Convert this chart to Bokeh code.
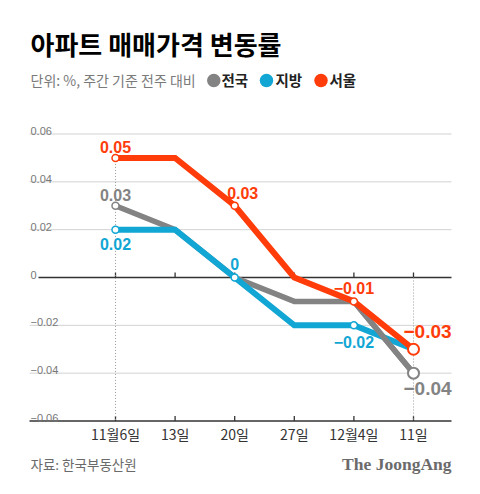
from bokeh.plotting import figure
from bokeh.models import Range1d
from bokeh.embed import file_html
from bokeh.resources import INLINE
from bokeh.core.properties import value

# ---------------- data ----------------
dates = ["11월6일", "13일", "20일", "27일", "12월4일", "11일"]
national = [0.03, 0.02, 0.0, -0.01, -0.01, -0.04]   # 전국
regional = [0.02, 0.02, 0.0, -0.02, -0.02, -0.03]   # 지방
seoul = [0.05, 0.05, 0.03, 0.0, -0.01, -0.03]       # 서울
y_ticks = [0.06, 0.04, 0.02, 0.0, -0.02, -0.04, -0.06]
y_tick_labels = ["0.06", "0.04", "0.02", "0", "−0.02", "−0.04", "−0.06"]
series_names = ["전국", "지방", "서울"]

title_text = "아파트 매매가격 변동률"
subtitle_text = "단위: %, 주간 기준 전주 대비"
source_text = "자료: 한국부동산원"
brand_text = "The JoongAng"

# ---------------- style ----------------
GRAY = "#838383"
BLUE = "#12a6d4"
RED = "#ff3c0a"
KR = "Noto Sans CJK KR"
NUM = "Liberation Sans"

W, H = 480, 494
X0_PX, STEP = 115.0, 59.6      # screen x of first category, spacing
Y0_PX, SCALE = 277.0, 2391.7   # screen y of value 0, px per unit


def sx(px):
    return (px - X0_PX) / STEP


def sy(py):
    return (Y0_PX - py) / SCALE


def fmt(v):
    if abs(v) < 1e-12:
        return "0"
    return ("−" if v < 0 else "") + f"{abs(v):.2f}"


p = figure(width=W, height=H, output_backend="svg", toolbar_location=None,
           x_range=Range1d(sx(0), sx(W)), y_range=Range1d(sy(H), sy(0)),
           x_axis_type=None, y_axis_type=None, min_border=0,
           min_border_left=0, min_border_right=0, min_border_top=0, min_border_bottom=0)
p.outline_line_color = None
p.grid.visible = False
p.background_fill_color = "white"
p.border_fill_color = "white"

n = len(dates)
xs = list(range(n))

# gridlines
light = [t for t in y_ticks if t not in (0.0, y_ticks[-1])]
p.segment(x0=[sx(29)] * len(light), x1=[sx(451)] * len(light), y0=light, y1=light,
          line_color="#d2d2d2", line_width=1)
p.segment(x0=[sx(38)], x1=[sx(451)], y0=[0.0], y1=[0.0], line_color="#333333", line_width=1.3)
p.segment(x0=[sx(29)], x1=[sx(451)], y0=[y_ticks[-1]], y1=[y_ticks[-1]],
          line_color="#333333", line_width=1.3)

# tick marks
tick_len = 5 / SCALE
p.segment(x0=xs, x1=xs, y0=[0.0] * n, y1=[tick_len] * n, line_color="#333333", line_width=1.3)
p.segment(x0=xs, x1=xs, y0=[y_ticks[-1]] * n, y1=[y_ticks[-1] + tick_len] * n,
          line_color="#333333", line_width=1.3)

# dotted verticals at first and last week
first_top = max(national[0], regional[0], seoul[0])
p.segment(x0=[0, n - 1], x1=[0, n - 1], y0=[first_top, 0.0], y1=[y_ticks[-1]] * 2,
          line_color="#9a9a9a", line_width=1, line_dash="1 2")

# y tick labels
p.text(x=[sx(30)] * len(y_ticks), y=y_ticks, text=y_tick_labels, y_offset=-3,
       text_align="left", text_baseline="alphabetic", text_font=value(NUM),
       text_font_size="11px", text_color="#777777")

# x labels
p.text(x=xs, y=[y_ticks[-1]] * n, text=dates, y_offset=13, text_align="center",
       text_baseline="middle", text_font=value(KR), text_font_size="14px", text_color="#333333")

# lines
p.line(xs, national, line_color=GRAY, line_width=5.5, line_join="miter")
p.line(xs, regional, line_color=BLUE, line_width=6, line_join="miter")
p.line(xs[4:], national[4:], line_color=GRAY, line_width=5.5, line_join="miter")
p.line(xs, seoul, line_color=RED, line_width=6, line_join="miter")

# markers
def markers(idx, vals, color, size, lw):
    p.scatter([xs[i] for i in idx], [vals[i] for i in idx], size=size, fill_color="white",
              line_color=color, line_width=lw)

markers([0], national, GRAY, 7, 1.5)
markers([0, 2, 4], regional, BLUE, 7, 1.5)
markers([0, 2, 4], seoul, RED, 7, 1.5)
markers([5], national, GRAY, 11, 2)
markers([5], seoul, RED, 11, 2)

# value labels
def vlabel(vals, i, color, dx, dy, size):
    p.text(x=[xs[i]], y=[vals[i]], text=[fmt(vals[i])], x_offset=dx, y_offset=dy,
           text_align="center", text_baseline="middle", text_font=value(NUM),
           text_font_size=size, text_font_style="bold", text_color=color)

vlabel(seoul, 0, RED, 0, -11, "16px")
vlabel(national, 0, GRAY, 0, -11, "16px")
vlabel(regional, 0, BLUE, 0, 14, "16px")
vlabel(seoul, 2, RED, 8, -12.5, "16px")
vlabel(regional, 2, BLUE, 0, -14, "16px")
vlabel(seoul, 4, RED, 0, -13, "16px")
vlabel(regional, 4, BLUE, 0, 16.5, "16px")
vlabel(seoul, 5, RED, 14, -17.5, "19px")
vlabel(national, 5, GRAY, 14, 15.5, "19px")

# title & subtitle
p.text(x=[sx(30)], y=[sy(43)], text=[title_text], text_align="left", text_baseline="middle",
       text_font=value(KR), text_font_size="26px", text_font_style="bold",
       text_color="#000000")
p.text(x=[sx(30)], y=[sy(79)], text=[subtitle_text], text_align="left", text_baseline="middle",
       text_font=value(KR), text_font_size="14px", text_color="#7a7a7a")

# legend
leg_dot_x = [213.3, 266.0, 320.5]
leg_txt_x = [221.0, 275.0, 329.0]
for c, dxp, txp, name in zip([GRAY, BLUE, RED], leg_dot_x, leg_txt_x, series_names):
    p.scatter([sx(dxp)], [sy(80)], size=13.5, fill_color=c, line_color=None)
    p.text(x=[sx(txp)], y=[sy(79)], text=[name], text_align="left", text_baseline="middle",
           text_font=value(KR), text_font_size="14.5px", text_font_style="bold",
           text_color="#222222")

# footer
p.text(x=[sx(30)], y=[sy(463)], text=[source_text], text_align="left", text_baseline="middle",
       text_font=value(KR), text_font_size="13.5px", text_color="#6a6a6a")
p.text(x=[sx(451)], y=[sy(463)], text=[brand_text], text_align="right", text_baseline="middle",
       text_font=value("Liberation Serif"), text_font_size="17.5px", text_font_style="bold",
       text_color="#6b6b6b")

open("out.html", "w").write(file_html(p, INLINE))
